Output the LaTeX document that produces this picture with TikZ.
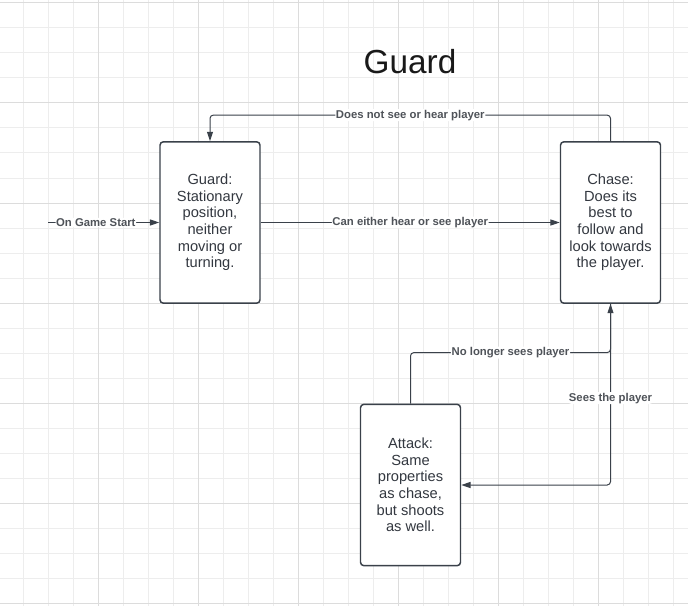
\documentclass[tikz,border=0pt]{standalone}
\usepackage{fontspec}
\setmainfont{Liberation Sans}
\usetikzlibrary{arrows.meta,positioning}

\definecolor{edgecol}{HTML}{3A414A}
\definecolor{txtcol}{HTML}{333840}
\definecolor{lblcol}{HTML}{4F5359}
\definecolor{gridlite}{HTML}{EDEDED}
\definecolor{griddark}{HTML}{DCDCDC}

\tikzset{
    statebox/.style={draw=edgecol, line width=1.1pt, rounded corners=2.5pt, fill=white,
        minimum width=75pt, minimum height=121pt, align=center, text=txtcol,
        font=\fontsize{11}{12.5}\selectfont},
    flow/.style={draw=edgecol, line width=0.75pt, rounded corners=2.5pt,
        -{Triangle[length=7pt,width=4.5pt]}},
    lbl/.style={fill=white, inner sep=0.5pt, text=lblcol,
        font=\fontsize{8.5}{10}\selectfont\bfseries},
}

\begin{document}
\begin{tikzpicture}[x=0.75pt, y=-0.75pt]
    \useasboundingbox (0,0) rectangle (688,606);
    \fill[white] (0,0) rectangle (688,606);

    % grid
    \foreach \gx in {23,48,...,673}
        \draw[gridlite, line width=0.75pt] (\gx,0) -- (\gx,606);
    \foreach \gy in {3,28,...,603}
        \draw[gridlite, line width=0.75pt] (0,\gy) -- (688,\gy);
    \foreach \gx in {98,198,...,598}
        \draw[griddark, line width=0.75pt] (\gx,0) -- (\gx,606);
    \foreach \gy in {3,103,...,603}
        \draw[griddark, line width=0.75pt] (0,\gy) -- (688,\gy);

    \node[text=black!90, font=\fontsize{25}{30}\selectfont] (title) at (410,62) {Guard};

    % states
    \node[statebox] (guard) at (210,222.5) {Guard:\\Stationary\\position,\\neither\\moving or\\turning.};
    \node[statebox] (chase) at (610.5,222.5) {Chase:\\Does its\\best to\\follow and\\look towards\\the player.};
    \node[statebox] (attack) at (410.5,485) {Attack:\\Same\\properties\\as chase,\\but shoots\\as well.};

    \coordinate (start) at (48,222.5);

    % transitions
    \draw[flow] (start) -- node[lbl, pos=0.43] {On Game Start} (guard.west);
    \draw[flow] (guard.east) -- node[lbl] {Can either hear or see player} (chase.west);
    \draw[flow] (chase.north) -- ++(0,-26) -| node[lbl, pos=0.25] {Does not see or hear player} (guard.north);
    \draw[flow] (attack.north) -- ++(0,-51) -| node[lbl, pos=0.25] {No longer sees player} (chase.south);
    \draw[flow] (chase.south) |- node[lbl, pos=0.26] {Sees the player} (attack.east);
\end{tikzpicture}
\end{document}
